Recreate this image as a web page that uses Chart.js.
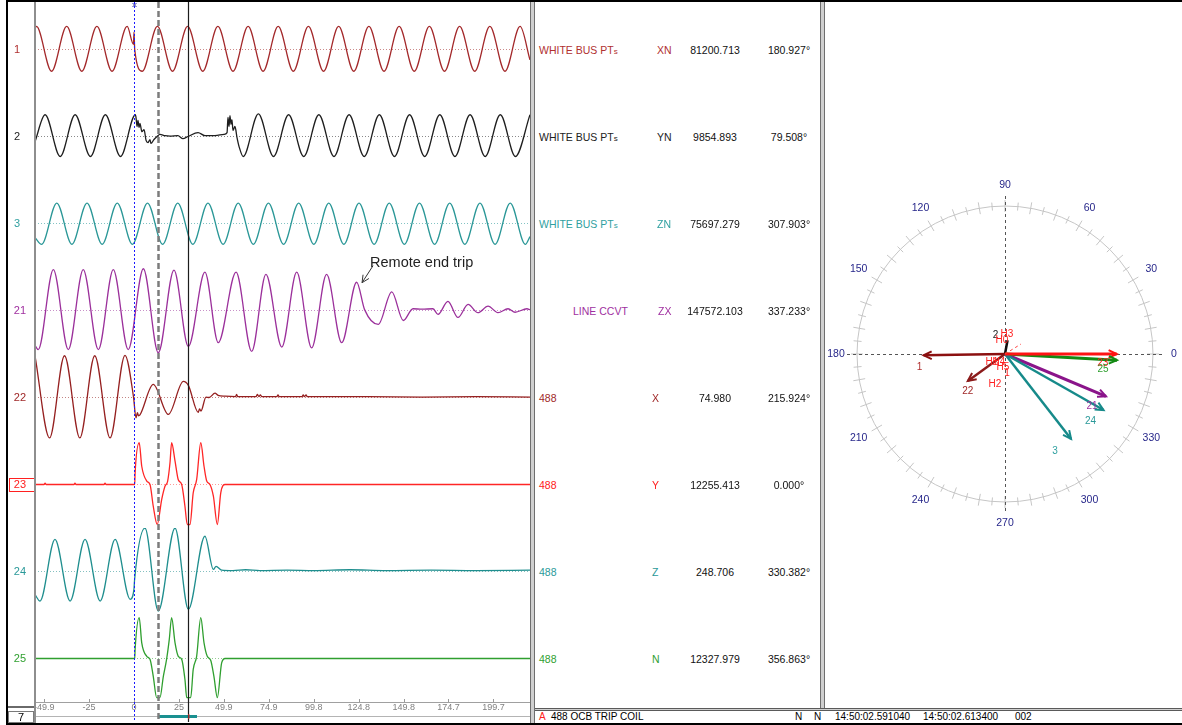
<!DOCTYPE html>
<html lang="en">
<head>
<meta charset="utf-8">
<title>488 OCB TRIP COIL – fault record</title>
<script src="https://cdn.jsdelivr.net/npm/chart.js@4.4.1/dist/chart.umd.min.js"></script>
<style>
  html, body { margin: 0; padding: 0; background: #fff; }
  body { position: relative; width: 1182px; height: 725px; overflow: hidden;
         font-family: "Liberation Sans", Arial, sans-serif; color: #000; }
  canvas, .bar, .cell, .stat { position: absolute; }
  .splitter { position: absolute; width: 3px; background: #cfcfcf;
              border-left: 1px solid #6e6e6e; border-right: 1px solid #6e6e6e; }
  .cell { font-size: 10.5px; line-height: 14px; white-space: nowrap; }
  .cell small { font-size: 8px; }
  .num { width: 90px; text-align: center; }
  .stat { top: 711px; font-size: 10px; line-height: 12px; white-space: nowrap; }
</style>
</head>
<body>
<canvas id="wave" style="left:8px; top:0px;" width="523" height="725"></canvas>
<canvas id="phasor" style="left:824px; top:175px;" width="358" height="358"></canvas>
<div id="table"></div>
<div id="status"></div>

<!-- window frame -->
<div class="bar" style="left:34px; top:2px; width:2px; height:721px; background:#8e8e8e;"></div>
<div class="splitter" style="left:530px; top:2px; height:721px;"></div>
<div class="splitter" style="left:820px; top:2px; height:706px;"></div>
<div class="bar" style="left:535px; top:708px; width:647px; height:1px; background:#5a5a5a;"></div>
<div class="bar" style="left:535px; top:709px; width:647px; height:1px; background:#d0d0d0;"></div>
<div class="bar" style="left:535px; top:710px; width:647px; height:1px; background:#5a5a5a;"></div>
<div class="bar" style="left:6px; top:0px; width:1176px; height:2px; background:#000;"></div>
<div class="bar" style="left:6px; top:0px; width:2px; height:725px; background:#000;"></div>
<div class="bar" style="left:6px; top:723px; width:1176px; height:2px; background:#000;"></div>

<script>
// ---------------- recorded data ----------------
// time base in ms relative to trigger; samples are [ms, % of channel full scale]
const timeRange = [-55, 220];
const timeTicks = [-49.9, -25, 0, 25, 49.9, 74.9, 99.8, 124.8, 149.8, 174.7, 199.7];
const timeTickLabels = ['-49.9', '-25', '0', '25', '49.9', '74.9', '99.8', '124.8', '149.8', '174.7', '199.7'];
const cursorTimes = [0, 13.3, 30.2];
const phasorWindow = [13.3, 35.0];

const channelNames = ['1', '2', '3', '21', '22', '23', '24', '25'];

const ch1 = [[-55, 49], [-54.2, 53], [-45.8, -50], [-37.4, 53], [-29.0, -50], [-20.6, 53], [-12.2, -50], [-3.8, 53],
  [-0.3, 12], [0, 40], [0.4, 0], [4.6, -50], [13.0, 53], [21.4, -50], [29.8, 53], [38.2, -50], [46.6, 53],
  [55.0, -50], [63.4, 53], [71.7, -50], [80.1, 53], [88.5, -50], [96.9, 53], [105.3, -50], [113.7, 53],
  [122.1, -50], [130.5, 53], [138.9, -50], [147.3, 53], [155.7, -50], [164.1, 53], [172.5, -50], [180.9, 53],
  [189.3, -50], [197.7, 53], [206.1, -50], [214.5, 53], [220, -24]];

const ch2 = [[-55, -12], [-49.4, 50], [-41.0, -46], [-32.7, 50], [-24.2, -46], [-15.9, 50], [-7.5, -46], [0.8, 50],
  [1.1, 44], [1.7, 23], [2.2, 37], [2.8, 21], [3.3, 30], [4.4, 11], [5.6, 16], [6.7, -9], [7.8, -14], [8.9, -7],
  [9.4, -16], [11.1, -7], [12.8, 0], [14.4, 5], [17.2, 2], [20.0, 1], [24.4, 2], [27.2, -5], [30.0, 0], [35.6, 9],
  [39.4, 2], [45.0, 2], [50.0, 5], [51.7, 9], [52.2, 44], [52.8, 23], [53.3, 48], [53.9, 28], [54.4, 39], [55.0, 14],
  [56.1, 23], [57.2, -2], [58.3, -22], [60.7, -46], [69.1, 52], [77.5, -46], [85.9, 50], [94.3, -46], [102.7, 50],
  [111.1, -46], [119.5, 50], [127.9, -46], [136.3, 50], [144.7, -46], [153.1, 50], [161.5, -46], [169.9, 50],
  [178.3, -46], [186.7, 50], [195.1, -46], [203.5, 50], [211.9, -46], [220, 50]];

const ch3 = [[-55, -32], [-51.3, -48], [-42.9, 47], [-34.5, -48], [-26.1, 47], [-17.7, -48], [-9.3, 47], [-0.9, -48],
  [7.5, 47], [15.9, -48], [24.3, 47], [32.7, -48], [41.1, 47], [49.5, -48], [57.9, 47], [66.3, -48], [74.7, 47],
  [83.1, -48], [91.5, 47], [99.9, -48], [108.2, 47], [116.6, -48], [125.0, 47], [133.4, -48], [141.8, 47],
  [150.2, -48], [158.6, 47], [167.0, -48], [175.4, 47], [183.8, -48], [192.2, 47], [200.6, -48], [209.0, 47],
  [217.4, -48], [220, -30]];

const ch21 = [[-55, -80], [-53.2, -90], [-44.8, 94], [-36.5, -90], [-28.2, 94], [-19.8, -90], [-11.5, 94], [-3.2, -90],
  [5.2, 96], [13.5, -97], [22.2, 93], [30.2, -83], [39.4, 88], [46.8, -74], [56.7, 88], [65.4, -94], [73.3, 83],
  [82.1, -84], [90.4, 88], [98.7, -86], [107.0, 83], [115.4, -74], [123.7, 65], [128.1, 2], [135.7, -32],
  [143.2, 43], [149.6, -23], [155.0, 4], [160.0, 3], [166.1, 4], [168.9, -9], [174.4, 21], [180.0, -16],
  [185.6, 14], [191.1, -5], [196.7, 10], [202.2, -5], [207.8, 4], [211.7, -4], [218.3, 4], [220, 2]];

const ch22 = [[-55, 96], [-46.9, -93], [-38.6, 96], [-30.1, -93], [-21.8, 96], [-13.3, -93], [-5.0, 97], [-0.3, 2],
  [1.1, -47], [1.9, -35], [2.5, -42], [3.3, -40], [10.7, 30], [19.1, -39], [27.4, 37], [30.2, 28], [35.7, -34],
  [36.4, -26], [37.2, -31], [40.0, 1], [41.7, 0], [45.0, 10], [46.7, 5], [50.6, 3], [56.4, 2], [57.0, 7],
  [57.6, 2], [67.8, 2], [68.5, 7], [69.4, 2], [70.2, 6], [71.0, 2], [79.4, 2], [80.0, 6], [80.6, 2], [93.4, 2],
  [94.0, 6], [94.6, 2], [95.6, 6], [96.2, 2], [130, 2], [160, 1], [190, 2], [220, 1]];

const ch23 = [[-55, 0], [-50.0, 0], [-49.4, 3], [-48.8, 0], [-33.3, 0], [-32.8, 3], [-32.2, 0], [-16.7, 0], [-16.1, 3],
  [-15.5, 0], [0.4, 0], [0.6, 25], [2.9, 96], [4.3, 42], [7.1, 8], [8.9, 0], [10.7, -50], [12.9, -92], [15.4, -34],
  [17.2, -4], [18.7, 8], [20.0, 50], [20.9, 96], [22.8, 54], [24.6, 11], [26.5, 0], [28.3, -50], [29.6, -92],
  [31.1, -92], [32.9, -19], [34.8, 11], [37.1, 96], [38.9, 42], [40.4, 8], [42.2, 0], [44.1, -27], [46.3, -92],
  [48.2, -19], [50.6, 0], [220, 0]];

const ch24 = [[-55, -53], [-52.2, -68], [-43.9, 74], [-35.5, -68], [-27.2, 74], [-18.8, -68], [-10.5, 74], [-2.1, -64],
  [0, -40], [0.3, -20], [6.1, 100], [13.5, -91], [22.8, 100], [30.2, -87], [39.4, 81], [44.1, 5], [45.6, 12],
  [48.7, 3], [55, 2], [62, 4], [70, 2], [85, 3], [100, 2], [120, 4], [140, 2], [165, 3], [190, 2], [220, 3]];

const ch25 = [[-55, 0], [0.4, 0], [0.6, 20], [2.9, 94], [4.3, 36], [7.1, 5], [8.9, -2], [10.7, -41], [12.6, -90],
  [14.4, -90], [16.3, -41], [18.1, -2], [19.6, 44], [20.9, 94], [22.8, 36], [24.6, 5], [26.5, -2], [28.3, -48],
  [29.3, -90], [31.5, -90], [32.9, -25], [34.8, 5], [37.1, 94], [38.9, 36], [40.7, 5], [42.6, -4], [44.4, -41],
  [46.3, -90], [48.7, -10], [50.6, 0], [220, 0]];

const traces = [ch1, ch2, ch3, ch21, ch22, ch23, ch24, ch25];

// phasor table (per channel)
const channelSources = ['WHITE BUS PTs', 'WHITE BUS PTs', 'WHITE BUS PTs', 'LINE CCVT', '488', '488', '488', '488'];
const channelPhases = ['XN', 'YN', 'ZN', 'ZX', 'X', 'Y', 'Z', 'N'];
const phasorMagnitudes = [81200.713, 9854.893, 75697.279, 147572.103, 74.980, 12255.413, 248.706, 12327.979];
const phasorAngles = [180.927, 79.508, 307.903, 337.233, 215.924, 0.000, 330.382, 356.863];
// drawn vector length, % of dial radius
const phasorLengths = [55, 9.5, 72.7, 74, 31, 75.5, 76.6, 75.8];
const dialLabels = [0, 30, 60, 90, 120, 150, 180, 210, 240, 270, 300, 330];
const harmonicMarks = ['H3', 'H0', 'H1', 'H4', 'H5', '1', 'H2'];

const tripNote = { text: 'Remote end trip', channel: '21', t: 126.7, value: 64 };
const statusLine = ['488 OCB TRIP COIL', 'N', 'N', '14:50:02.591040', '14:50:02.613400', '002'];

// ---------------- styling ----------------
const FONT = '"Liberation Sans", Arial, sans-serif';
const traceColors = ['#a3282a', '#1e1e1e', '#2a9797', '#9b309b', '#952020', '#ff2626', '#1f8e8e', '#2f9f2f'];
const baseColors = ['#cc8a8a', '#8a8a8a', '#84c4c4', '#c890c8', '#c48484', '#ff9a9a', '#84c0c0', '#92cc92'];
const labelColors = ['#b03030', '#222222', '#30a0a0', '#a030a0', '#a02828', '#ff2020', '#2a9999', '#30a030'];
const phasorColors = ['#8b1010', '#111111', '#168a8a', '#8a148a', '#8b1a1a', '#ff1414', '#168a8a', '#138a13'];
const phasorWidths = [2.5, 2.5, 2.5, 3, 2.5, 3, 2.5, 3];
const phasorLabelOffsets = [[-4, 12], [-12, -5], [-16, 12], [-14, 10], [0, 10], [-14, 9], [-13, 11], [-14, 9]];
const harmonicOffsets = [[2, -20], [-3, -14], [-13, 8], [-6, 8], [-2, 13], [2, 19], [-10, 30]];
const cursorStyles = [
  { color: '#1a1aff', width: 1, dash: [2, 2] },
  { color: '#7c7c7c', width: 2.5, dash: [6, 3] },
  { color: '#1c1c1c', width: 1.2, dash: [] }
];

// ---------------- oscillograph ----------------
const traceScales = {
  x: {
    type: 'linear', position: 'bottom', min: timeRange[0], max: timeRange[1],
    afterBuildTicks: s => { s.ticks = timeTicks.map(v => ({ value: v })); },
    afterFit: s => { s.height = 10; s.paddingLeft = 0; s.paddingRight = 0; },
    grid: { drawOnChartArea: false, drawTicks: false, color: '#a0a0a0' },
    border: { color: '#a0a0a0' },
    ticks: { autoSkip: false, maxRotation: 0, padding: 1, color: '#808080',
             font: { family: FONT, size: 9, lineHeight: 1 },
             callback: (v, i) => timeTickLabels[i] }
  }
};
// stacked left axes are laid out bottom-up, so register the lowest channel first
[...channelNames].reverse().forEach(name => {
  const i = channelNames.indexOf(name);
  traceScales['y' + name] = {
    type: 'linear', position: 'left', stack: 'traces', stackWeight: 1, min: -100, max: 100,
    grid: { display: false, drawTicks: false },
    border: { display: false },
    afterBuildTicks: s => { s.ticks = [{ value: 0 }]; },
    afterFit: s => { s.width = 27; s.paddingTop = 0; s.paddingBottom = 0; },
    ticks: { color: labelColors[i], padding: name.length > 1 ? 9 : 15, crossAlign: 'near',
             font: { family: FONT, size: 11 }, callback: () => name }
  };
});

const traceSets = [];
traces.forEach((pts, i) => {
  const yAxisID = 'y' + channelNames[i];
  traceSets.push({
    data: pts.map(([t, v]) => ({ x: t, y: v })), yAxisID,
    borderColor: traceColors[i], borderWidth: 1.3, pointRadius: 0,
    cubicInterpolationMode: 'monotone', order: 0
  });
  traceSets.push({
    data: [{ x: timeRange[0], y: 0 }, { x: timeRange[1], y: 0 }], yAxisID,
    borderColor: baseColors[i], borderWidth: 1, borderDash: [1, 2], pointRadius: 0, order: 1
  });
});

const traceOverlay = {
  id: 'traceOverlay',
  afterDatasetsDraw(chart) {
    const { ctx, scales, chartArea: area } = chart;
    const xs = scales.x;
    ctx.save();

    // tick marks on the time axis
    ctx.strokeStyle = '#9a9a9a';
    ctx.lineWidth = 1;
    xs.ticks.forEach(tk => {
      const px = Math.round(xs.getPixelForValue(tk.value)) + 0.5;
      ctx.beginPath(); ctx.moveTo(px, area.bottom - 3); ctx.lineTo(px, area.bottom); ctx.stroke();
    });

    // time slider row with the phasor window
    const rowY = area.bottom + 14;
    ctx.strokeStyle = '#b4b4b4';
    ctx.beginPath(); ctx.moveTo(area.left, rowY + 0.5); ctx.lineTo(area.right, rowY + 0.5); ctx.stroke();
    const w0 = xs.getPixelForValue(phasorWindow[0]);
    const w1 = xs.getPixelForValue(phasorWindow[1]);
    ctx.fillStyle = '#1a9090';
    ctx.fillRect(w0, rowY - 1, w1 - w0, 3);

    // row label box
    ctx.fillStyle = '#6a6a6a';
    ctx.fillRect(0, area.bottom + 4, area.left - 1, 2);
    ctx.strokeStyle = '#7a7a7a';
    ctx.strokeRect(0.5, area.bottom + 9.5, area.left - 2, 11);
    ctx.fillStyle = '#000';
    ctx.font = '11px ' + FONT;
    ctx.textAlign = 'center';
    ctx.textBaseline = 'middle';
    ctx.fillText('7', (area.left - 1) / 2, area.bottom + 15.5);

    // cursors
    cursorTimes.forEach((t, i) => {
      const st = cursorStyles[i];
      const px = Math.round(xs.getPixelForValue(t)) + 0.5;
      ctx.strokeStyle = st.color;
      ctx.lineWidth = st.width;
      ctx.setLineDash(st.dash);
      ctx.beginPath(); ctx.moveTo(px, 2); ctx.lineTo(px, chart.height - 3); ctx.stroke();
    });
    ctx.setLineDash([]);
    const c2 = xs.getPixelForValue(cursorTimes[2]);
    ctx.strokeStyle = '#e03030';
    ctx.lineWidth = 1;
    ctx.beginPath(); ctx.moveTo(c2 + 0.5, rowY - 2); ctx.lineTo(c2 + 0.5, rowY + 3); ctx.stroke();
    const c0 = Math.round(xs.getPixelForValue(cursorTimes[0])) + 0.5;
    ctx.strokeStyle = '#3030a0';
    ctx.beginPath();
    ctx.moveTo(c0 - 2, 3); ctx.lineTo(c0 + 2, 7);
    ctx.moveTo(c0 + 2, 3); ctx.lineTo(c0 - 2, 7);
    ctx.stroke();

    // selected channel marker
    const ySel = scales.y23.getPixelForValue(0);
    ctx.strokeStyle = '#ff2020';
    ctx.strokeRect(1.5, Math.round(ySel) - 6.5, 25, 13);

    // annotation
    const ys = scales['y' + tripNote.channel];
    const tx = xs.getPixelForValue(tripNote.t);
    const ty = ys.getPixelForValue(tripNote.value);
    const sx = tx + 11, sy = ty - 17;
    ctx.strokeStyle = '#333';
    ctx.lineWidth = 1;
    ctx.beginPath(); ctx.moveTo(sx, sy); ctx.lineTo(tx, ty); ctx.stroke();
    const ang = Math.atan2(sy - ty, sx - tx);
    ctx.beginPath();
    ctx.moveTo(tx + 8 * Math.cos(ang + 0.45), ty + 8 * Math.sin(ang + 0.45));
    ctx.lineTo(tx, ty);
    ctx.lineTo(tx + 8 * Math.cos(ang - 0.45), ty + 8 * Math.sin(ang - 0.45));
    ctx.stroke();
    ctx.fillStyle = '#222';
    ctx.font = '14.5px ' + FONT;
    ctx.textAlign = 'left';
    ctx.textBaseline = 'alphabetic';
    ctx.fillText(tripNote.text, tx + 8, ty - 16);
    ctx.restore();
  }
};

const waveChart = new Chart(document.getElementById('wave'), {
  type: 'line',
  data: { datasets: traceSets },
  options: {
    responsive: false, animation: false, events: [],
    layout: { padding: { top: 6, bottom: 13, left: 0, right: 1 } },
    plugins: { legend: { display: false }, tooltip: { enabled: false } },
    scales: traceScales
  },
  plugins: [traceOverlay]
});

// ---------------- phasor table ----------------
const tableStyle = {
  sourceLeft: [539, 539, 539, 573, 539, 539, 539, 539],
  phaseLeft: [657, 657, 657, 658, 652, 652, 652, 652],
  magnitudeCenter: 715, angleCenter: 789
};
const table = document.getElementById('table');
channelNames.forEach((name, i) => {
  const cy = waveChart.scales['y' + name].getPixelForValue(0);
  const top = Math.round(cy - 7) + 'px';
  const add = (left, text, color, cls) => {
    const el = document.createElement('div');
    el.className = 'cell' + (cls ? ' ' + cls : '');
    el.style.left = left + 'px';
    el.style.top = top;
    el.style.color = color;
    if (text.endsWith('PTs')) {
      el.textContent = text.slice(0, -1);
      const s = document.createElement('small');
      s.textContent = 's';
      el.appendChild(s);
    } else {
      el.textContent = text;
    }
    table.appendChild(el);
  };
  add(tableStyle.sourceLeft[i], channelSources[i], labelColors[i]);
  add(tableStyle.phaseLeft[i], channelPhases[i], labelColors[i]);
  add(tableStyle.magnitudeCenter - 45, phasorMagnitudes[i].toFixed(3), '#111', 'num');
  add(tableStyle.angleCenter - 45, phasorAngles[i].toFixed(3) + '°', '#111', 'num');
});

// ---------------- status bar ----------------
const statusLeft = [551, 795, 814, 835, 923, 1015];
const status = document.getElementById('status');
const flag = document.createElement('div');
flag.className = 'stat'; flag.style.left = '539px'; flag.style.color = '#ff2020'; flag.textContent = 'A';
status.appendChild(flag);
statusLine.forEach((txt, i) => {
  const el = document.createElement('div');
  el.className = 'stat';
  el.style.left = statusLeft[i] + 'px';
  el.textContent = txt;
  status.appendChild(el);
});

// ---------------- phasor dial ----------------
const dialPlugin = {
  id: 'dial',
  beforeDatasetsDraw(chart) {
    const { ctx, scales: { x, y } } = chart;
    const cx = x.getPixelForValue(0), cy = y.getPixelForValue(0);
    const r = x.getPixelForValue(100) - cx;
    ctx.save();
    ctx.strokeStyle = '#c6c6c6';
    ctx.lineWidth = 1;
    ctx.beginPath(); ctx.arc(cx, cy, r, 0, Math.PI * 2); ctx.stroke();
    for (let a = 0; a < 360; a += 5) {
      const rad = a * Math.PI / 180;
      const h = a % 10 === 0 ? 6 : 4;
      ctx.beginPath();
      ctx.moveTo(cx + (r - h) * Math.cos(rad), cy - (r - h) * Math.sin(rad));
      ctx.lineTo(cx + (r + h) * Math.cos(rad), cy - (r + h) * Math.sin(rad));
      ctx.stroke();
    }
    ctx.strokeStyle = '#555';
    ctx.setLineDash([3, 3]);
    const ext = r + 10;
    ctx.beginPath();
    ctx.moveTo(cx - ext, Math.round(cy) + 0.5); ctx.lineTo(cx + ext, Math.round(cy) + 0.5);
    ctx.moveTo(Math.round(cx) + 0.5, cy - ext); ctx.lineTo(Math.round(cx) + 0.5, cy + ext);
    ctx.stroke();
    ctx.setLineDash([]);
    ctx.fillStyle = '#27278a';
    ctx.font = '10.5px ' + FONT;
    ctx.textAlign = 'center';
    ctx.textBaseline = 'middle';
    dialLabels.forEach(a => {
      const rad = a * Math.PI / 180;
      ctx.fillText(String(a), cx + (r + 21) * Math.cos(rad), cy - (r + 21) * Math.sin(rad));
    });
    ctx.restore();
  },
  afterDatasetsDraw(chart) {
    const { ctx, scales: { x, y } } = chart;
    const cx = x.getPixelForValue(0), cy = y.getPixelForValue(0);
    ctx.save();
    chart.data.datasets.forEach((ds, i) => {
      const pts = chart.getDatasetMeta(i).data;
      const p0 = pts[0], p1 = pts[1];
      const dx = p1.x - p0.x, dy = p1.y - p0.y;
      if (Math.hypot(dx, dy) > 20) {
        const back = Math.atan2(-dy, -dx);
        ctx.strokeStyle = ds.borderColor;
        ctx.lineWidth = 2;
        ctx.beginPath();
        ctx.moveTo(p1.x + 9 * Math.cos(back + 0.45), p1.y + 9 * Math.sin(back + 0.45));
        ctx.lineTo(p1.x, p1.y);
        ctx.lineTo(p1.x + 9 * Math.cos(back - 0.45), p1.y + 9 * Math.sin(back - 0.45));
        ctx.stroke();
      }
      ctx.fillStyle = labelColors[i];
      ctx.font = '10px ' + FONT;
      ctx.textAlign = 'center';
      ctx.textBaseline = 'middle';
      const off = phasorLabelOffsets[i];
      ctx.fillText(channelNames[i], p1.x + off[0], p1.y + off[1]);
    });
    ctx.strokeStyle = '#ff4040';
    ctx.lineWidth = 1;
    ctx.setLineDash([3, 3]);
    ctx.beginPath(); ctx.moveTo(cx, cy); ctx.lineTo(cx + 16, cy - 10); ctx.stroke();
    ctx.setLineDash([]);
    ctx.fillStyle = '#ff2020';
    ctx.font = '10px ' + FONT;
    ctx.textAlign = 'center';
    ctx.textBaseline = 'middle';
    harmonicMarks.forEach((h, i) => {
      ctx.fillText(h, cx + harmonicOffsets[i][0], cy + harmonicOffsets[i][1]);
    });
    ctx.restore();
  }
};

const drawOrder = [3, 5, 4, 2, 6, 0, 1, 1];
new Chart(document.getElementById('phasor'), {
  type: 'scatter',
  data: {
    datasets: phasorAngles.map((deg, i) => {
      const rad = deg * Math.PI / 180;
      const len = phasorLengths[i];
      return {
        data: [{ x: 0, y: 0 }, { x: len * Math.cos(rad), y: len * Math.sin(rad) }],
        showLine: true, borderColor: phasorColors[i], borderWidth: phasorWidths[i],
        pointRadius: 0, order: drawOrder[i]
      };
    })
  },
  options: {
    responsive: false, animation: false, events: [],
    layout: { padding: 0 },
    plugins: { legend: { display: false }, tooltip: { enabled: false } },
    scales: {
      x: { type: 'linear', display: false, min: -122.3, max: 119.6 },
      y: { type: 'linear', display: false, min: -120.95, max: 120.95 }
    }
  },
  plugins: [dialPlugin]
});
</script>
</body>
</html>
